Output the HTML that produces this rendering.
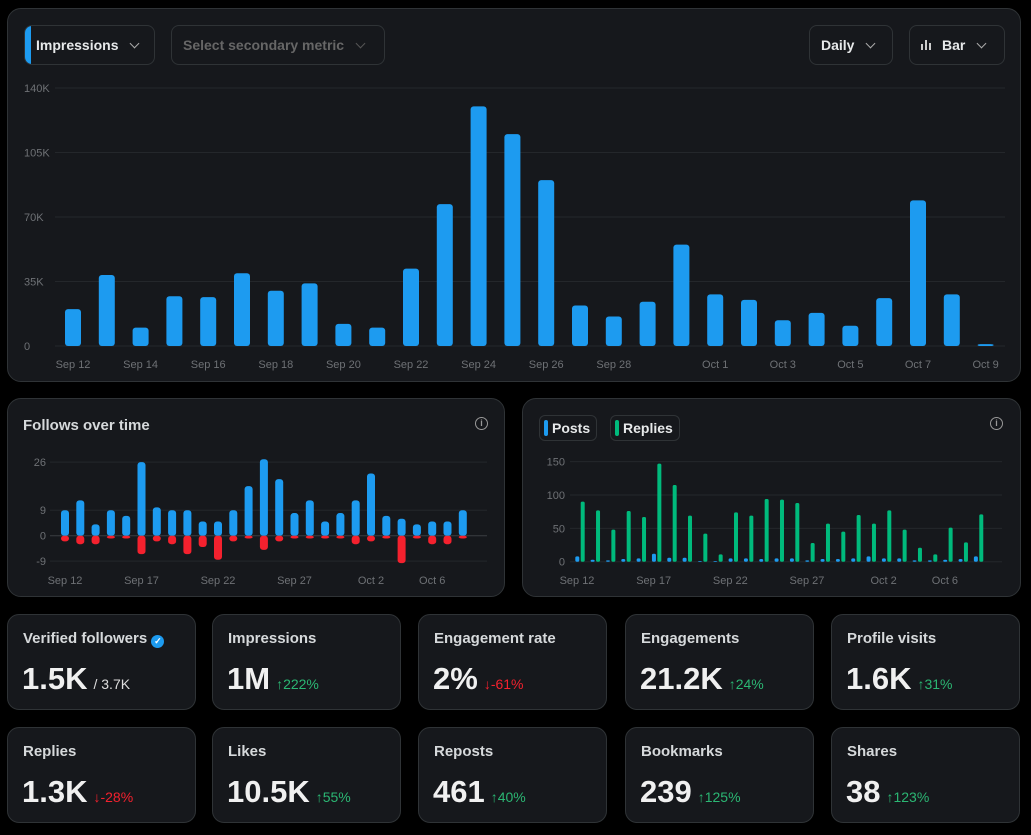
<!DOCTYPE html>
<html><head><meta charset="utf-8"><style>
*{box-sizing:border-box;margin:0;padding:0}
body{width:1031px;height:835px;background:#000;font-family:"Liberation Sans",sans-serif;color:#e7e9ea;position:relative;overflow:hidden}
.panel{position:absolute;background:#16181c;border:1px solid #2f3336;border-radius:14px}
.btn{position:absolute;border:1px solid #2f3336;border-radius:8px;height:40px;font-weight:bold;font-size:14px;display:flex;align-items:center;padding-left:11px;white-space:nowrap}
.chev{display:inline-block;width:7px;height:7px;border-right:1.5px solid #aaa;border-bottom:1.5px solid #aaa;transform:rotate(45deg);margin-left:13px;margin-top:-4px}
.card{position:absolute;width:189px;height:96px;background:#16181c;border:1px solid #2f3336;border-radius:12px}
.card .t{position:absolute;left:15px;top:15px;font-size:15px;font-weight:bold;color:#d6d9db}
.card .v{position:absolute;left:14px;top:46px;font-size:31px;font-weight:bold;color:#f0f0f0;white-space:nowrap}
.card .p{font-size:14px;font-weight:normal;margin-left:6px}
.up{color:#2bb673}.dn{color:#f4212e}
svg text{font-family:"Liberation Sans",sans-serif}
.info{position:absolute;width:13px;height:13px;border:1.3px solid #999;border-radius:50%;font-size:9px;color:#999;text-align:center;line-height:11px;font-weight:bold}
.leg{position:absolute;top:415px;height:26px;border:1px solid #2f3336;border-radius:6px;font-size:14px;font-weight:bold;display:flex;align-items:center;padding:0 6px 0 4px}
.leg i{display:inline-block;width:4px;height:16px;border-radius:2px;margin-right:4px}
</style></head><body>
<div class="panel" style="left:7px;top:8px;width:1014px;height:374px"></div>
<div class="btn" style="left:24px;top:25px;width:131px;overflow:hidden"><span style="position:absolute;left:0;top:0;width:6px;height:40px;background:#1d9bf0"></span>Impressions<span class="chev"></span></div>
<div class="btn" style="left:171px;top:25px;width:214px;color:#666">Select secondary metric<span class="chev" style="border-color:#555"></span></div>
<div class="btn" style="left:809px;top:25px;width:84px">Daily<span class="chev"></span></div>
<div class="btn" style="left:909px;top:25px;width:96px"><svg width="12" height="10" style="margin-right:9px"><rect x="0" y="4" width="2" height="6" fill="#ccc"/><rect x="4" y="0" width="2" height="10" fill="#ccc"/><rect x="8" y="3" width="2" height="7" fill="#ccc"/></svg>Bar<span class="chev"></span></div>
<svg id="main" width="1031" height="380" style="position:absolute;left:0;top:0"></svg>

<div class="panel" style="left:7px;top:398px;width:498px;height:199px"></div>
<div style="position:absolute;left:23px;top:417px;font-size:15px;font-weight:bold;color:#d6d9db">Follows over time</div>
<div class="info" style="left:475px;top:417px">i</div>
<svg id="fol" width="520" height="600" style="position:absolute;left:0;top:0"></svg>

<div class="panel" style="left:522px;top:398px;width:499px;height:199px"></div>
<div class="leg" style="left:539px"><i style="background:#1d9bf0"></i>Posts</div>
<div class="leg" style="left:610px"><i style="background:#00ba7c"></i>Replies</div>
<div class="info" style="left:990px;top:417px">i</div>
<svg id="pr" width="1031" height="600" style="position:absolute;left:0;top:0"></svg>

<div class="card" style="left:7px;top:614px"><div class="t">Verified followers <span style="display:inline-block;width:13px;height:13px;background:#1d9bf0;border-radius:50%;font-size:9px;color:#fff;text-align:center;line-height:13px;vertical-align:-1px">&#10003;</span></div><div class="v">1.5K<span class="p" style="color:#ddd">/ 3.7K</span></div></div>
<div class="card" style="left:212px;top:614px"><div class="t">Impressions</div><div class="v">1M<span class="p up">↑222%</span></div></div>
<div class="card" style="left:418px;top:614px"><div class="t">Engagement rate</div><div class="v">2%<span class="p dn">↓-61%</span></div></div>
<div class="card" style="left:625px;top:614px"><div class="t">Engagements</div><div class="v">21.2K<span class="p up">↑24%</span></div></div>
<div class="card" style="left:831px;top:614px"><div class="t">Profile visits</div><div class="v">1.6K<span class="p up">↑31%</span></div></div>
<div class="card" style="left:7px;top:727px"><div class="t">Replies</div><div class="v">1.3K<span class="p dn">↓-28%</span></div></div>
<div class="card" style="left:212px;top:727px"><div class="t">Likes</div><div class="v">10.5K<span class="p up">↑55%</span></div></div>
<div class="card" style="left:418px;top:727px"><div class="t">Reposts</div><div class="v">461<span class="p up">↑40%</span></div></div>
<div class="card" style="left:625px;top:727px"><div class="t">Bookmarks</div><div class="v">239<span class="p up">↑125%</span></div></div>
<div class="card" style="left:831px;top:727px"><div class="t">Shares</div><div class="v">38<span class="p up">↑123%</span></div></div>

<script>
const impressions=[20,38.5,10,27,26.5,39.5,30,34,12,10,42,77,130,115,90,22,16,24,55,28,25,14,18,11,26,79,28,1];
const mainTicks=[0,35,70,105,140];
const mainTickLabels=["0","35K","70K","105K","140K"];
const mainDates=["Sep 12","Sep 14","Sep 16","Sep 18","Sep 20","Sep 22","Sep 24","Sep 26","Sep 28","Oct 1","Oct 3","Oct 5","Oct 7","Oct 9"];
const mainDateIdx=[0,2,4,6,8,10,12,14,16,19,21,23,25,27];
const followsPos=[9,12.5,4,9,7,26,10,9,9,5,5,9,17.5,27,20,8,12.5,5,8,12.5,22,7,6,4,5,5,9];
const followsNeg=[-2,-3,-3,-1,-1,-6.5,-2,-3,-6.5,-4,-8.5,-2,-1,-5,-2,-1,-1,-1,-1,-3,-2,-1,-9.7,-1,-3,-3,-1];
const followTicks=[-9,0,9,26];
const smallDates=["Sep 12","Sep 17","Sep 22","Sep 27","Oct 2","Oct 6"];
const smallDateIdx=[0,5,10,15,20,24];
const posts=[8,3,2,4,5,12,6,6,1,1,5,5,4,5,5,2,4,4,5,8,5,5,2,2,3,4,8];
const replies=[90,77,48,76,67,147,115,69,42,11,74,69,94,93,88,28,57,45,70,57,77,48,21,11,51,29,71];
const prTicks=[0,50,100,150];
const NS="http://www.w3.org/2000/svg";
function el(svg,tag,a,txt){const e=document.createElementNS(NS,tag);for(const k in a)e.setAttribute(k,a[k]);if(txt!==undefined)e.textContent=txt;svg.appendChild(e);return e;}
function bar(svg,x,y1,y2,w,c,name){const t=Math.min(y1,y2),h=Math.abs(y2-y1);const r=el(svg,'rect',{x:x-w/2,y:t,width:w,height:Math.max(h,0.5),rx:Math.min(w/2-0.5,3),fill:c});return r;}
const GRID='#24272b', LBL='#6e7175';
// main
(function(){const s=document.getElementById('main');
const y=v=>346-v/140*258, x=i=>73+i*33.8;
mainTicks.forEach((t,i)=>{el(s,'line',{x1:55,x2:1005,y1:y(t),y2:y(t),stroke:GRID});const tx=el(s,'text',{x:24,y:y(t)+4,fill:LBL,'font-size':11},mainTickLabels[i]);});
impressions.forEach((v,i)=>bar(s,x(i),y(0),y(v),16,'#1d9bf0','impressions-bar'));
mainDates.forEach((d,k)=>{const tx=el(s,'text',{x:x(mainDateIdx[k]),y:368,fill:LBL,'font-size':11,'text-anchor':'middle'},d);});
})();
// follows
(function(){const s=document.getElementById('fol');
const y=v=>535.7-v*2.83, x=i=>65+i*15.3;
followTicks.forEach(t=>{el(s,'line',{x1:50,x2:487,y1:y(t),y2:y(t),stroke:t==0?'#3a3d42':GRID});const tx=el(s,'text',{x:46,y:y(t)+4,fill:LBL,'font-size':11,'text-anchor':'end'},t);});
followsPos.forEach((v,i)=>bar(s,x(i),y(0),y(v),8,'#1d9bf0','follows-bar'));
followsNeg.forEach((v,i)=>bar(s,x(i),y(0),y(v),8,'#f4212e','unfollows-bar'));
smallDates.forEach((d,k)=>{const tx=el(s,'text',{x:x(smallDateIdx[k]),y:584,fill:LBL,'font-size':11,'text-anchor':'middle'},d);});
})();
// posts/replies
(function(){const s=document.getElementById('pr');
const y=v=>561.7-v*0.667, x=i=>580+i*15.33;
prTicks.forEach(t=>{el(s,'line',{x1:570,x2:1002,y1:y(t),y2:y(t),stroke:GRID});const tx=el(s,'text',{x:565,y:y(t)+4,fill:LBL,'font-size':11,'text-anchor':'end'},t);});
posts.forEach((v,i)=>bar(s,x(i)-2.7,y(0),y(v),4,'#1d9bf0','posts-bar'));
replies.forEach((v,i)=>bar(s,x(i)+2.7,y(0),y(v),4,'#00ba7c','replies-bar'));
smallDates.forEach((d,k)=>{const tx=el(s,'text',{x:x(smallDateIdx[k])-3,y:584,fill:LBL,'font-size':11,'text-anchor':'middle'},d);});
})();
</script>
</body></html>
